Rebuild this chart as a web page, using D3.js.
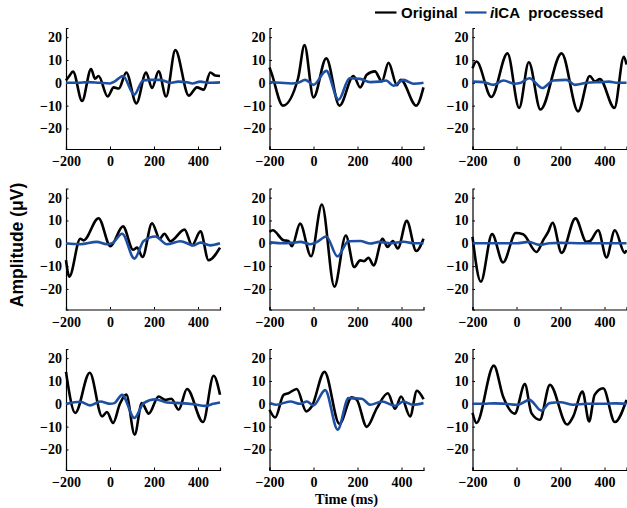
<!DOCTYPE html>
<html><head><meta charset="utf-8">
<script src="https://cdn.jsdelivr.net/npm/d3@7"></script>
<style>body{margin:0;background:#fff}svg{display:block}</style>
</head><body>
<svg id="c" width="627" height="508"></svg>
<script>
const xTicks = [-200, 0, 200, 400];
const yTicks = [-20, -10, 0, 10, 20];
const seriesNames = ["Original", "iICA processed"];

const orig1 = [[-200,1],[-185,3],[-168,4.9],[-127,-8],[-86,6],[-68,1.8],[-52,3],[-11,-6],[17,-2],[40,-2.5],[74,4.5],[120,-9],[164,4.5],[191,-2.3],[221,5],[255,-6],[297,14.3],[358,-5.6],[395,-2],[426,-3],[456,4.5],[478,3.2],[500,3]];
const ica1  = [[-200,0],[-150,0],[-100,0.3],[-50,0],[0,-0.3],[20,0.5],[59,3],[110,-5.2],[150,1],[180,1.3],[229,1.3],[274,0],[310,0.5],[350,0.2],[375,-0.3],[410,0.5],[450,0],[500,0.2]];

const orig2 = [[-200,6.7],[-190,4],[-139,-10],[-70,2],[-41,16.5],[0,-6.4],[58,10.7],[118,-10],[182,3],[212,-2],[242,3.5],[279,5],[311,0.6],[341,8.8],[379,-1],[397,1.3],[467,-10],[500,-2]];
const ica2  = [[-200,0.3],[-150,0],[-100,-0.3],[-70,0],[-38,1.3],[0,-0.9],[58,5.2],[114,-7.4],[164,2],[212,1.7],[258,0.3],[300,0.5],[330,1],[364,-1.3],[409,1.3],[455,-0.4],[500,0]];

const orig3 = [[-200,6.4],[-182,9.3],[-114,-6.2],[-41,12.9],[12,-11],[56,9],[109,-11.7],[205,12.9],[280,-12.5],[333,3],[356,0.6],[379,1.6],[445,-11],[488,11.4],[500,8]];
const ica3  = [[-200,0.5],[-150,0.3],[-105,-0.9],[-59,1],[-10,-0.4],[20,0],[58,2],[118,-2.3],[167,1],[227,1.3],[265,-0.9],[320,0],[380,0.3],[420,0.5],[460,0],[500,0]];

const orig4 = [[-200,-7.4],[-185,-14.6],[-135,2],[-120,1.3],[-52,11],[2,-1.3],[59,7.4],[105,-2.8],[123,-1.9],[148,-6],[191,8.8],[226,2],[247,4.2],[274,0.9],[339,6],[373,-0.9],[411,5.2],[448,-7.4],[500,-1.9]];
const ica4  = [[-200,0],[-135,-0.4],[-60,0.6],[-15,-0.4],[10,0],[55,4.2],[111,-6.7],[153,1],[206,3],[259,-0.4],[320,0.9],[380,-0.9],[411,0.3],[456,-0.9],[500,0]];

const orig5 = [[-200,5],[-185,5.7],[-136,1.3],[-114,1],[-98,-1.3],[-61,8.6],[-11,-5.7],[38,17],[95,-19],[147,3.4],[185,-10.4],[212,-7.5],[230,-7.8],[250,-6.3],[273,-9.7],[314,2],[336,-1.6],[361,1],[383,-2.3],[424,9.8],[467,-3.4],[500,2]];
const ica5  = [[-200,0.5],[-150,0],[-100,0.2],[-60,0.6],[-15,-0.4],[15,0.5],[58,3],[109,-5.7],[159,0.9],[212,1],[258,-0.1],[300,0.6],[350,0],[410,0.7],[455,0],[500,0]];

const orig6 = [[-200,2.8],[-162,-16.8],[-111,4],[-61,-8.4],[-3,4.5],[30,4],[91,-3.8],[121,1.3],[144,5],[164,9],[205,-4.2],[268,10.9],[318,0.6],[335,1],[371,5.7],[409,-6.2],[447,5.7],[492,-4.2],[500,-3]];
const ica6  = [[-200,0],[-100,0],[0,0],[55,0.6],[105,-0.7],[150,0],[200,0.2],[300,0],[400,0],[500,0]];

const orig7 = [[-200,14],[-158,-4],[-92,13.6],[-36,-5.5],[-14,-3.6],[14,-8.4],[45,0],[74,4],[112,-13.5],[145,0.3],[176,-4.3],[221,3.2],[252,1.7],[279,2.2],[312,-2.6],[350,6.5],[423,-8],[471,12.3],[500,4]];
const ica7  = [[-200,0],[-135,0.9],[-89,-0.7],[-44,1],[2,0],[20,0.3],[55,3.9],[111,-6.2],[153,0.3],[206,2],[259,0.6],[320,0.3],[380,-0.2],[433,-0.9],[470,0],[500,0.6]];

const orig8 = [[-200,-2.6],[-174,-6],[-136,3.9],[-114,4.6],[-76,6.5],[-33,-3.3],[-8,-1.2],[50,14],[118,-8.8],[174,2.8],[197,1.7],[242,-10.1],[288,-1.9],[338,4.6],[371,-2.2],[398,3.2],[439,-5.5],[470,5.7],[500,2]];
const ica8  = [[-200,0.5],[-170,-0.4],[-106,1],[-60,0],[-30,1],[0,-0.7],[53,6],[110,-11.3],[159,2.5],[220,2.2],[258,-0.4],[311,1],[371,-0.9],[409,1],[450,-0.4],[500,0.3]];

const orig9 = [[-200,-4],[-182,-8.4],[-103,16.7],[-61,3.2],[-8,-4.3],[38,8.6],[68,-4.1],[106,-7],[152,8.3],[230,-9.1],[258,-5.5],[300,5.4],[330,-7.7],[355,3.9],[394,6.8],[447,-8],[500,1.7]];
const ica9  = [[-200,0],[-150,0],[-100,0.2],[-50,0],[0,-0.4],[20,0],[58,1.7],[114,-3],[150,0.3],[200,0.7],[258,-0.4],[320,0],[400,0],[450,0.2],[500,0]];

const panels = [[orig1,ica1],[orig2,ica2],[orig3,ica3],[orig4,ica4],[orig5,ica5],[orig6,ica6],[orig7,ica7],[orig8,ica8],[orig9,ica9]];

const svg = d3.select("#c");
const colLeft = [66, 269.5, 472.5];
const rowTop = [28, 188.5, 349];
const W = 154, H = 121;
const BLACK = "#000", BLUE = "#1d4fa2";
const x = d3.scaleLinear().domain([-200, 500]).range([0, W]);
const y = d3.scaleLinear().domain([-29, 24]).range([H, 0]);
const line = d3.line().x(d => x(d[0])).y(d => y(d[1])).curve(d3.curveMonotoneX);

panels.forEach((p, i) => {
  const g = svg.append("g").attr("transform", `translate(${colLeft[i % 3]},${rowTop[Math.floor(i / 3)]})`);
  const xa = g.append("g").attr("transform", `translate(0,${H})`)
    .call(d3.axisBottom(x).tickValues(xTicks).tickSize(-2.5).tickPadding(4).tickFormat(d3.format("d")));
  const ya = g.append("g")
    .call(d3.axisLeft(y).tickValues(yTicks).tickSize(-2.5).tickPadding(4).tickFormat(d3.format("d")));
  [xa, ya].forEach(a => {
    a.select(".domain").attr("stroke", "#000").attr("stroke-width", 1.2);
    a.selectAll(".tick line").attr("stroke", "#000").attr("stroke-width", 1);
    a.selectAll(".tick text").attr("font-family", "'Liberation Serif', 'Times New Roman', serif")
      .attr("font-weight", "bold").attr("font-size", 14).attr("fill", "#000");
  });
  xa.selectAll(".tick text").attr("dy", "0.95em");
  g.append("path").datum(p[0]).attr("d", line).attr("fill", "none")
    .attr("stroke", BLACK).attr("stroke-width", 2.6).attr("stroke-linejoin", "round");
  g.append("path").datum(p[1]).attr("d", line).attr("fill", "none")
    .attr("stroke", BLUE).attr("stroke-width", 2.6).attr("stroke-linejoin", "round");
});

// Legend
const lg = svg.append("g").attr("font-family", "'Liberation Sans', Arial, sans-serif")
  .attr("font-weight", "bold").attr("font-size", 15);
lg.append("line").attr("x1", 375).attr("x2", 396.5).attr("y1", 12.5).attr("y2", 12.5).attr("stroke", BLACK).attr("stroke-width", 2.2);
lg.append("text").attr("x", 401).attr("y", 17.5).text(seriesNames[0]);
lg.append("line").attr("x1", 465).attr("x2", 486.5).attr("y1", 12.5).attr("y2", 12.5).attr("stroke", BLUE).attr("stroke-width", 2.2);
const t2 = lg.append("text").attr("x", 490).attr("y", 17.5).attr("xml:space", "preserve");
t2.append("tspan").attr("font-style", "italic").text("i");
t2.append("tspan").text("ICA\u00a0 processed");

// Axis titles
svg.append("text").attr("x", 346.5).attr("y", 503.5).attr("text-anchor", "middle")
  .attr("font-family", "'Liberation Serif', 'Times New Roman', serif").attr("font-weight", "bold")
  .attr("font-size", 14.5).text("Time (ms)");
svg.append("text").attr("transform", "translate(23,245) rotate(-90)").attr("text-anchor", "middle")
  .attr("font-family", "'Liberation Sans', Arial, sans-serif").attr("font-weight", "bold")
  .attr("font-size", 17.5).text("Amplitude (\u03bcV)");
</script>
</body></html>
